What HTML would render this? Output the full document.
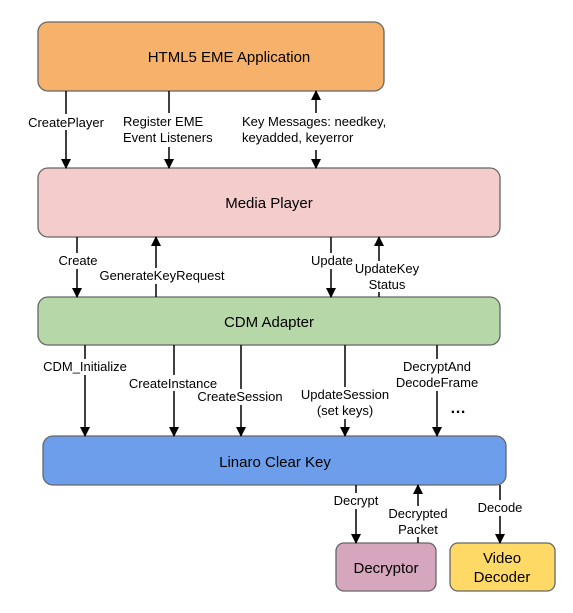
<!DOCTYPE html>
<html><head><style>
body{margin:0;width:573px;height:608px;background:#fff;overflow:hidden;font-family:"Liberation Sans",sans-serif}
svg text{font-family:"Liberation Sans",sans-serif;font-size:13px;fill:#000}
</style></head><body>
<svg width="573" height="608" viewBox="0 0 573 608">
<defs><marker id="a" markerWidth="10" markerHeight="10" refX="9" refY="5" orient="auto" markerUnits="userSpaceOnUse"><path d="M0,0 L10,5 L0,10 z" fill="#000"/></marker></defs>
<g stroke="#666" stroke-width="1.3">
<rect x="38" y="22" width="346" height="69" rx="10" fill="#f6b26b"/>
<rect x="38" y="168" width="462" height="69" rx="10" fill="#f4cccc"/>
<rect x="38" y="297" width="462" height="48" rx="10" fill="#b6d7a8"/>
<rect x="43" y="436" width="463" height="49" rx="10" fill="#6d9eeb"/>
<rect x="336" y="543" width="100" height="48" rx="8" fill="#d5a6bd"/>
<rect x="450" y="543" width="105" height="48" rx="8" fill="#ffd966"/>
</g>
<g text-anchor="middle">
<text x="229" y="62" style="font-size:15px">HTML5 EME Application</text>
<text x="269" y="208" style="font-size:15px">Media Player</text>
<text x="269" y="327" style="font-size:15px">CDM Adapter</text>
<text x="275" y="467" style="font-size:15px">Linaro Clear Key</text>
<text x="386" y="573" style="font-size:15px">Decryptor</text>
<text x="502" y="563" style="font-size:15px">Video</text>
<text x="502" y="582" style="font-size:15px">Decoder</text>
</g>
<g stroke="#000" stroke-width="1.5" fill="none">
<line x1="66" y1="91" x2="66" y2="168" marker-end="url(#a)"/>
<line x1="169" y1="91" x2="169" y2="168" marker-end="url(#a)"/>
<line x1="316" y1="130" x2="316" y2="91" marker-end="url(#a)"/>
<line x1="316" y1="150" x2="316" y2="168" marker-end="url(#a)"/>
<line x1="77" y1="237" x2="77" y2="297" marker-end="url(#a)"/>
<line x1="156" y1="297" x2="156" y2="237" marker-end="url(#a)"/>
<line x1="331" y1="237" x2="331" y2="297" marker-end="url(#a)"/>
<line x1="379" y1="297" x2="379" y2="237" marker-end="url(#a)"/>
<line x1="85" y1="345" x2="85" y2="436" marker-end="url(#a)"/>
<line x1="174" y1="345" x2="174" y2="436" marker-end="url(#a)"/>
<line x1="241" y1="345" x2="241" y2="436" marker-end="url(#a)"/>
<line x1="345" y1="345" x2="345" y2="436" marker-end="url(#a)"/>
<line x1="437" y1="345" x2="437" y2="436" marker-end="url(#a)"/>
<line x1="356" y1="485" x2="356" y2="543" marker-end="url(#a)"/>
<line x1="418" y1="543" x2="418" y2="485" marker-end="url(#a)"/>
<line x1="500" y1="485" x2="500" y2="543" marker-end="url(#a)"/>
</g>
<g>
<rect x="26" y="114" width="82" height="16" fill="#fff"/>
<text x="66" y="127" text-anchor="middle">CreatePlayer</text>
<rect x="122" y="113" width="100" height="34" fill="#fff"/>
<text x="123" y="126">Register EME</text><text x="123" y="142">Event Listeners</text>
<rect x="240" y="113" width="150" height="34" fill="#fff"/>
<text x="242" y="126">Key Messages: needkey,</text><text x="242" y="142">keyadded, keyerror</text>
<rect x="56" y="253" width="44" height="16" fill="#fff"/>
<text x="78" y="265" text-anchor="middle">Create</text>
<rect x="96" y="268" width="132" height="16" fill="#fff"/>
<text x="162" y="280" text-anchor="middle">GenerateKeyRequest</text>
<rect x="308" y="253" width="48" height="16" fill="#fff"/>
<text x="332" y="265" text-anchor="middle">Update</text>
<rect x="352" y="261" width="70" height="31" fill="#fff"/>
<text x="387" y="273" text-anchor="middle">UpdateKey</text><text x="387" y="289" text-anchor="middle">Status</text>
<rect x="40" y="359" width="90" height="16" fill="#fff"/>
<text x="85" y="371" text-anchor="middle">CDM_Initialize</text>
<rect x="126" y="375" width="94" height="16" fill="#fff"/>
<text x="173" y="388" text-anchor="middle">CreateInstance</text>
<rect x="194" y="389" width="92" height="16" fill="#fff"/>
<text x="240" y="401" text-anchor="middle">CreateSession</text>
<rect x="296" y="387" width="98" height="32" fill="#fff"/>
<text x="345" y="399" text-anchor="middle">UpdateSession</text><text x="345" y="415" text-anchor="middle">(set keys)</text>
<rect x="390" y="359" width="94" height="32" fill="#fff"/>
<text x="437" y="371" text-anchor="middle">DecryptAnd</text><text x="437" y="387" text-anchor="middle">DecodeFrame</text>
<text x="450" y="413" style="font-size:16px;font-weight:bold">…</text>
<rect x="330" y="493" width="52" height="16" fill="#fff"/>
<text x="356" y="505" text-anchor="middle">Decrypt</text>
<rect x="387" y="506" width="62" height="31" fill="#fff"/>
<text x="418" y="518" text-anchor="middle">Decrypted</text><text x="418" y="534" text-anchor="middle">Packet</text>
<rect x="474" y="500" width="52" height="16" fill="#fff"/>
<text x="500" y="512" text-anchor="middle">Decode</text>
</g>
</svg>
</body></html>
